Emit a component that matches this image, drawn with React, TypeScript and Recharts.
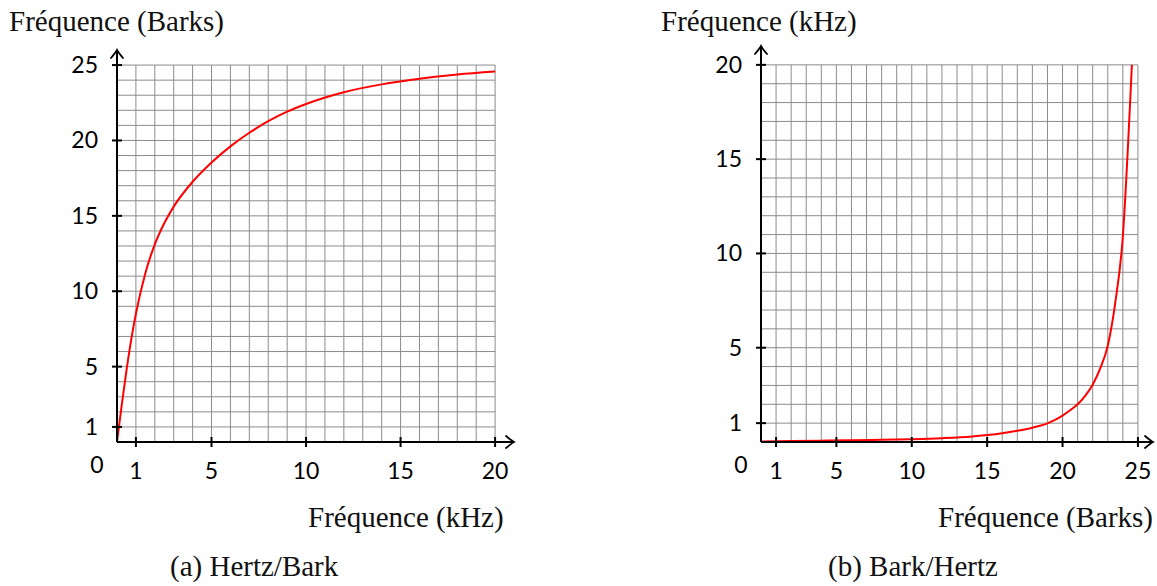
import { LineChart, Line, XAxis, YAxis, ReferenceLine, ReferenceDot } from 'recharts';

// (a) Hertz -> Bark
const hzKhz = [0, 0.25, 0.5, 0.75, 1, 1.5, 2, 2.5, 3, 4, 5, 6, 7, 8, 9, 10, 12, 14, 16, 18, 20];
const hzBark = [0, 2.44, 4.73, 6.77, 8.51, 11.2, 13.11, 14.51, 15.61, 17.26, 18.54, 19.61, 20.51, 21.28, 21.91, 22.42, 23.2, 23.72, 24.09, 24.37, 24.57];

// (b) Bark -> Hertz
const bkBark = [0, 2, 4, 6, 8, 10, 12, 14, 15, 16, 17, 18, 18.5, 19, 19.5, 20, 20.5, 21, 21.5, 22, 22.5, 23, 23.5, 24, 24.5, 24.6];
const bkKhz = [0.03, 0.05, 0.07, 0.09, 0.12, 0.15, 0.2, 0.29, 0.37, 0.47, 0.6, 0.76, 0.86, 0.99, 1.17, 1.4, 1.68, 2.0, 2.45, 3.04, 3.9, 5.1, 7.4, 10.9, 18.3, 20];

const leftXTicks = [0, 1, 5, 10, 15, 20];
const leftYTicks = [1, 5, 10, 15, 20, 25];
const rightXTicks = [0, 1, 5, 10, 15, 20, 25];
const rightYTicks = [1, 5, 10, 15, 20];

const leftGridX = Array.from({ length: 20 }, (_, i) => i + 1);
const leftGridY = Array.from({ length: 25 }, (_, i) => i + 1);
const rightGridX = Array.from({ length: 25 }, (_, i) => i + 1);
const rightGridY = Array.from({ length: 20 }, (_, i) => i + 1);

const GRID = '#8c8c8c';
const numStyle = { fontFamily: 'Lato, sans-serif', fontSize: 23, fill: '#000' };
const serif = "'Liberation Serif', 'DejaVu Serif', serif";

const XTick = ({ x, y, payload }: any) => {
  const v = payload.value;
  if (v === 0) {
    return <text x={x - 20} y={y + 31} textAnchor="middle" style={numStyle}>0</text>;
  }
  return (
    <g>
      <line x1={x} x2={x} y1={y - 5} y2={y + 5} stroke="#000" strokeWidth={2} />
      <text x={x} y={y + 37} textAnchor="middle" style={numStyle}>{v}</text>
    </g>
  );
};

const YTick = ({ x, y, payload }: any) => (
  <g>
    <line x1={x - 5} x2={x + 5} y1={y} y2={y} stroke="#000" strokeWidth={2} />
    <text x={x - 19} y={y + 8} textAnchor="end" style={numStyle}>{payload.value}</text>
  </g>
);

const ArrowRight = ({ cx, cy }: any) => (
  <path
    d={`M${cx - 8},${cy - 6} Q${cx - 2},${cy - 1} ${cx},${cy} Q${cx - 2},${cy + 1} ${cx - 8},${cy + 6}`}
    stroke="#000" strokeWidth={1.8} fill="none" strokeLinecap="round"
  />
);

const ArrowUp = ({ cx, cy }: any) => (
  <path
    d={`M${cx - 6},${cy + 8} Q${cx - 1},${cy + 2} ${cx},${cy} Q${cx + 1},${cy + 2} ${cx + 6},${cy + 8}`}
    stroke="#000" strokeWidth={1.8} fill="none" strokeLinecap="round"
  />
);

const Title = ({ left, top, children }: any) => (
  <div style={{ position: 'absolute', left, top, fontFamily: serif, fontSize: 29, lineHeight: 1, whiteSpace: 'nowrap', color: '#111' }}>
    {children}
  </div>
);

function Panel({ data, xMax, yMax, gridX, gridY, xTicks, yTicks, width, height, margin, left }: any) {
  const gxMax = gridX[gridX.length - 1];
  const gyMax = gridY[gridY.length - 1];
  return (
    <div style={{ position: 'absolute', left, top: 0 }}>
      <LineChart width={width} height={height} data={data} margin={margin} style={{ overflow: 'visible' }}>
        {gridX.map((v: number) => (
          <ReferenceLine key={`gx-${v}`} segment={[{ x: v, y: 0 }, { x: v, y: gyMax }]} stroke={GRID} strokeWidth={1} />
        ))}
        {gridY.map((v: number) => (
          <ReferenceLine key={`gy-${v}`} segment={[{ x: 0, y: v }, { x: gxMax, y: v }]} stroke={GRID} strokeWidth={1} />
        ))}
        <XAxis
          dataKey="x" type="number" domain={[0, xMax]} ticks={xTicks} interval={0}
          height={1} tickSize={0} tickMargin={0}
          tickLine={false}
          axisLine={{ stroke: '#000', strokeWidth: 2 }} tick={<XTick />}
        />
        <YAxis
          type="number" domain={[0, yMax]} ticks={yTicks} interval={0}
          width={1} tickSize={0} tickMargin={0}
          tickLine={false}
          axisLine={{ stroke: '#000', strokeWidth: 2 }} tick={<YTick />}
        />
        <ReferenceDot x={xMax} y={0} r={0} ifOverflow="visible" shape={<ArrowRight />} />
        <ReferenceDot x={0} y={yMax} r={0} ifOverflow="visible" shape={<ArrowUp />} />
        <Line
          dataKey="y" type="monotone" stroke="#ff0000" strokeWidth={2}
          dot={false} activeDot={false} isAnimationActive={false}
        />
      </LineChart>
    </div>
  );
}

export default function App() {
  const leftData = hzKhz.map((x, i) => ({ x, y: hzBark[i] }));
  const rightData = bkBark.map((x, i) => ({ x, y: bkKhz[i] }));

  return (
    <div style={{ position: 'absolute', left: 0, top: 0, width: 1157, height: 586, background: '#fff' }}>
      <Panel
        data={leftData} xMax={21} yMax={26}
        gridX={leftGridX} gridY={leftGridY} xTicks={leftXTicks} yTicks={leftYTicks}
        width={540} height={500} margin={{ top: 50, left: 116, right: 26, bottom: 57 }} left={0}
      />
      <Panel
        data={rightData} xMax={26} yMax={21}
        gridX={rightGridX} gridY={rightGridY} xTicks={rightXTicks} yTicks={rightYTicks}
        width={517} height={500} margin={{ top: 46, left: 120, right: 4, bottom: 57 }} left={640}
      />
      <Title left={9} top={7}>Fréquence (Barks)</Title>
      <Title left={661} top={7}>Fréquence (kHz)</Title>
      <Title left={308} top={503}>Fréquence (kHz)</Title>
      <Title left={938} top={503}>Fréquence (Barks)</Title>
      <Title left={170} top={552}>(a) Hertz/Bark</Title>
      <Title left={828} top={552}>(b) Bark/Hertz</Title>
    </div>
  );
}
